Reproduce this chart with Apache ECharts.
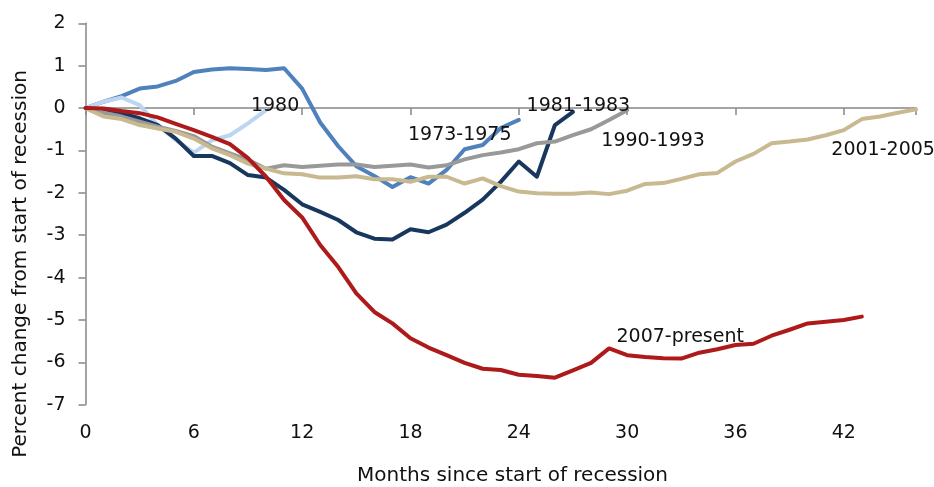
<!DOCTYPE html>
<html>
<head>
<meta charset="utf-8">
<script src="https://cdn.jsdelivr.net/npm/echarts@6/dist/echarts.min.js"></script>
<style>
  html, body { margin: 0; padding: 0; background: #fff; }
  #chart { width: 934px; height: 487px; }
</style>
</head>
<body>
<div id="chart"></div>
<script>
// monthly values, index = months since start of recession
const s1973 = [0, 0.15, 0.28, 0.46, 0.51, 0.64, 0.85, 0.91, 0.94, 0.92, 0.90, 0.94, 0.46, -0.34, -0.90, -1.37, -1.60, -1.86, -1.63, -1.78, -1.46, -0.97, -0.87, -0.47, -0.28];
const s1980 = [0, 0.15, 0.25, 0.07, -0.40, -0.75, -1.05, -0.76, -0.64, -0.36, -0.05];
const s1981 = [0, -0.06, -0.12, -0.24, -0.40, -0.72, -1.13, -1.13, -1.30, -1.58, -1.64, -1.93, -2.27, -2.45, -2.64, -2.93, -3.08, -3.10, -2.86, -2.93, -2.75, -2.47, -2.16, -1.74, -1.26, -1.62, -0.40, -0.09];
const s1990 = [0, -0.11, -0.20, -0.32, -0.44, -0.54, -0.66, -0.91, -1.07, -1.22, -1.43, -1.35, -1.39, -1.36, -1.33, -1.33, -1.39, -1.36, -1.33, -1.40, -1.35, -1.21, -1.11, -1.05, -0.97, -0.83, -0.79, -0.64, -0.50, -0.28, -0.05];
const s2001 = [0, -0.20, -0.26, -0.40, -0.48, -0.56, -0.72, -0.95, -1.11, -1.31, -1.43, -1.54, -1.56, -1.64, -1.64, -1.61, -1.68, -1.68, -1.74, -1.62, -1.62, -1.78, -1.66, -1.84, -1.97, -2.01, -2.02, -2.02, -1.99, -2.03, -1.95, -1.79, -1.77, -1.67, -1.56, -1.53, -1.26, -1.08, -0.83, -0.79, -0.74, -0.64, -0.52, -0.26, -0.20, -0.11, -0.03];
const s2007 = [0, -0.01, -0.07, -0.12, -0.22, -0.37, -0.52, -0.68, -0.85, -1.18, -1.62, -2.17, -2.58, -3.23, -3.75, -4.37, -4.81, -5.08, -5.43, -5.65, -5.83, -6.01, -6.15, -6.18, -6.29, -6.32, -6.36, -6.19, -6.01, -5.67, -5.83, -5.87, -5.90, -5.91, -5.77, -5.69, -5.59, -5.56, -5.37, -5.23, -5.08, -5.04, -5.00, -4.92];

const seriesNames = ["1973-1975", "1980", "1981-1983", "1990-1993", "2001-2005", "2007-present"];
const seriesValues = [s1973, s1980, s1981, s1990, s2001, s2007];
const seriesColors = ["#4f81bd", "#bcd5f0", "#17375e", "#999999", "#c9b990", "#ae1a1a"];
// where each name sits, in [month, percent]
const labelAt = [[20.73, -0.64], [10.5, 0.05], [27.3, 0.04], [31.44, -0.78], [44.18, -0.99], [32.94, -5.40]];

const FONT = "DejaVu Sans";
const chart = echarts.init(document.getElementById("chart"));

const series = seriesNames.map((name, i) => ({
  type: "line",
  name: name,
  xAxisIndex: 0,
  data: seriesValues[i].map((v, m) => [m, v]),
  showSymbol: false,
  symbol: "none",
  smooth: false,
  clip: false,
  lineStyle: { color: seriesColors[i], width: 4, cap: "round", join: "round" },
  itemStyle: { color: seriesColors[i] },
  markPoint: {
    symbol: "circle",
    symbolSize: 0,
    silent: true,
    animation: false,
    label: {
      show: true,
      position: "inside",
      formatter: name,
      color: "#111",
      fontFamily: FONT,
      fontSize: 19,
    },
    data: [{ coord: labelAt[i] }],
  },
}));

const option = {
  animation: false,
  backgroundColor: "#fff",
  grid: {
    left: 85.5,
    right: 18,
    top: 23.3,
    bottom: 82.2,
    containLabel: false,
    outerBoundsMode: "none",
  },
  xAxis: [
    {
      type: "value",
      position: "bottom",
      min: 0,
      max: 46,
      interval: 6,
      axisLine: { show: false, onZero: false },
      axisTick: { show: false },
      splitLine: { show: false },
      axisLabel: {
        margin: 19,
        color: "#111",
        fontFamily: FONT,
        fontSize: 19,
        showMaxLabel: false,
      },
    },
    {
      type: "value",
      position: "bottom",
      min: 0,
      max: 46,
      interval: 6,
      axisLine: { show: true, onZero: true, lineStyle: { color: "#868686", width: 1.5 } },
      axisTick: { show: true, length: 7, lineStyle: { color: "#868686", width: 1.5 } },
      axisLabel: { show: false },
      splitLine: { show: false },
    },
  ],
  yAxis: {
    type: "value",
    min: -7,
    max: 2,
    interval: 1,
    axisLine: { show: true, onZero: false, lineStyle: { color: "#868686", width: 1.5 } },
    axisTick: { show: true, length: 7, lineStyle: { color: "#868686", width: 1.5 } },
    splitLine: { show: false },
    axisLabel: {
      margin: 20,
      color: "#111",
      fontFamily: FONT,
      fontSize: 19,
    },
  },
  graphic: [
    {
      type: "text",
      x: 21,
      y: 264,
      rotation: Math.PI / 2,
      style: {
        text: "Percent change from start of recession",
        fontFamily: FONT,
        fontSize: 20,
        fill: "#111",
        align: "center",
        verticalAlign: "middle",
      },
    },
    {
      type: "text",
      x: 512.5,
      y: 476,
      style: {
        text: "Months since start of recession",
        fontFamily: FONT,
        fontSize: 20,
        fill: "#111",
        align: "center",
        verticalAlign: "middle",
      },
    },
  ],
  series: series,
};

chart.setOption(option);
</script>
</body>
</html>
